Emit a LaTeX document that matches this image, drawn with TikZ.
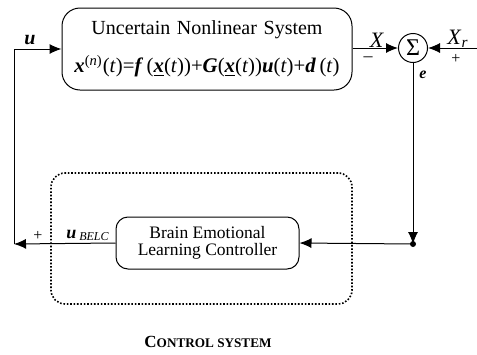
\documentclass[tikz,border=0pt]{standalone}
\usepackage{fontspec}
\setmainfont{Liberation Serif}
\usetikzlibrary{arrows.meta,positioning}

\newcommand{\bv}[1]{\textbf{\textit{#1}}}

\tikzset{
	block/.style={draw,rounded corners=9pt,align=center},
	sigl/.style={-{Latex[length=6pt,width=5pt]}},
	frame/.style={draw,line width=0.8pt,dash pattern=on 0.8pt off 0.9pt,rounded corners=7pt},
}

\begin{document}
\begin{tikzpicture}[x=0.5pt,y=-0.5pt,line width=0.5pt]

	\useasboundingbox (0,0) rectangle (477,354);

	% plant, summing junction and controller
	\node[block,minimum width=145pt,minimum height=41pt,text width=138pt,font=\fontsize{10}{19}\selectfont] (plant) at (207,49)
		{Uncertain Nonlinear System\\
		{\fontsize{10.4}{19}\selectfont\bv{x}\textsuperscript{(\textit{n})}(\textit{t})=\bv{f}\,(\underline{\bv{x}}(\textit{t}))+\bv{G}(\underline{\bv{x}}(\textit{t}))\bv{u}(\textit{t})+\bv{d}\,(\textit{t})}};
	\node[draw,circle,minimum size=14.5pt,inner sep=0pt,font=\fontsize{12}{12}\selectfont] (sum) at (413,48) {\raisebox{-0.5pt}{Σ}};
	\node[block,rounded corners=6pt,minimum width=91.5pt,minimum height=26pt,font=\fontsize{8.75}{8.5}\selectfont] (belc) at (207.5,243)
		{Brain Emotional\\Learning Controller};
	\node[frame,minimum width=150.5pt,minimum height=65.5pt] (box) at (201.5,238.5) {};

	\coordinate (ref) at (477,48);
	\coordinate (dot) at (413,244);
	\coordinate (back) at (14,244);

	% signal paths
	\draw[sigl] (plant.east |- sum) -- (sum.west);
	\draw[sigl] (ref) -- (sum.east);
	\draw[sigl] (sum.south) -- (dot);
	\fill (dot) circle (3);
	\draw[sigl] (dot) -- (belc.east);
	\draw[sigl] (belc.west) -- (back);
	\draw[sigl] (back) |- (plant.west);

	% labels
	\node[font=\fontsize{10}{10}\selectfont] at (30,40) {\bv{u}};
	\node[font=\fontsize{11}{11}\selectfont] at (377,40) {\textit{X}};
	\node[font=\fontsize{9}{9}\selectfont] at (368,59) {--};
	\node[font=\fontsize{11}{11}\selectfont] at (458,39) {\textit{X}\textsubscript{\textit{r}}};
	\node[font=\fontsize{8}{8}\selectfont] at (456,59) {+};
	\node[font=\fontsize{8}{8}\selectfont] at (423,75) {\bv{e}};
	\node[font=\fontsize{9}{9}\selectfont] at (88,235) {\bv{u}\,\textsubscript{\textit{BELC}}};
	\node[font=\fontsize{8}{8}\selectfont] at (38,236) {+};
	\node[font=\bfseries] at (208,342)
		{{\fontsize{8.5}{9}\selectfont C}{\fontsize{6.6}{9}\selectfont ONTROL SYSTEM}};

\end{tikzpicture}
\end{document}
